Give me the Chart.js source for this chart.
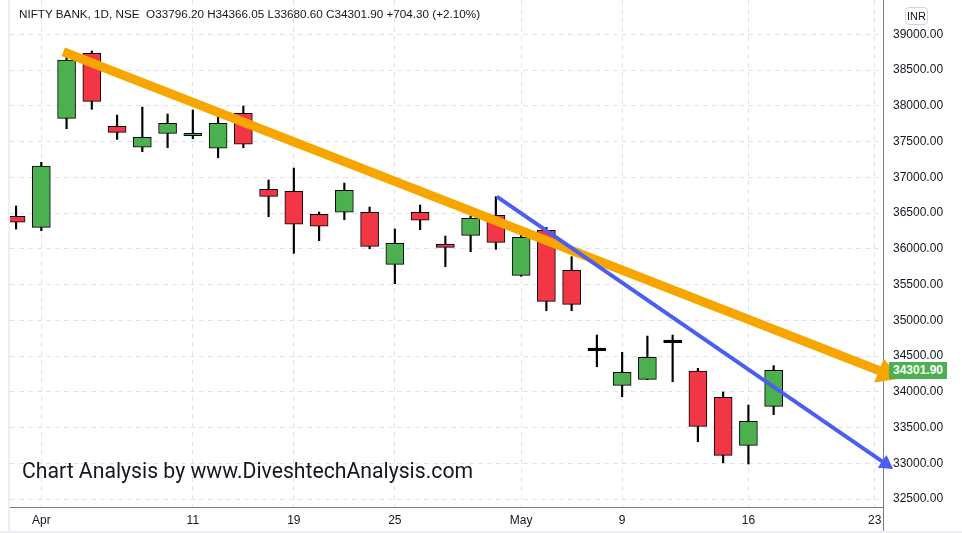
<!DOCTYPE html>
<html>
<head>
<meta charset="utf-8">
<script src="https://cdn.jsdelivr.net/npm/chart.js@4.4.0/dist/chart.umd.min.js"></script>
<style>
html,body{margin:0;padding:0;background:#fff;}
#wrap{position:relative;width:962px;height:533px;overflow:hidden;font-family:"Liberation Sans",Arial,sans-serif;}
#c{position:absolute;left:0;top:0;}
.title{position:absolute;left:19px;top:7px;font-size:11.7px;color:#131722;white-space:pre;}
.wm{position:absolute;left:22px;top:458px;font-size:21.2px;color:#131722;font-family:Roboto,"Liberation Sans",sans-serif;white-space:pre;}
.inr{position:absolute;left:905px;top:7px;width:23px;height:18px;border:1px solid #d1d4dc;border-radius:4px;font-size:11px;line-height:16px;text-align:center;color:#131722;box-sizing:border-box;}
.price{position:absolute;left:889px;width:58px;height:17px;background:#4caf50;color:#fff;font-size:12px;font-weight:bold;line-height:17px;text-align:center;}
.vl{position:absolute;}
</style>
</head>
<body>
<div id="wrap">
<canvas id="c" width="962" height="533"></canvas>
<div class="vl" style="left:8px;top:0;width:2px;height:533px;background:#eceef2;"></div>
<div class="vl" style="left:883px;top:507px;width:1px;height:26px;background:#787b86;"></div>
<div class="vl" style="left:0;top:531px;width:962px;height:2px;background:#eceef2;"></div>
<div class="title" id="title"></div>
<div class="wm">Chart Analysis by www.DiveshtechAnalysis.com</div>
<div class="inr">INR</div>
<div class="price" id="price"></div>
</div>
<script>
// ---- data ----
const dates  = ['Mar 31','Apr 1','Apr 4','Apr 5','Apr 6','Apr 7','Apr 8','Apr 11','Apr 12','Apr 13','Apr 18','Apr 19','Apr 20','Apr 21','Apr 22','Apr 25','Apr 26','Apr 27','Apr 28','Apr 29','May 2','May 4','May 5','May 6','May 9','May 10','May 11','May 12','May 13','May 16','May 17'];
const opens  = [36455,36301,37825,38734,37713,37420,37615,37582,37406,37895,36832,36804,36483,36511,36511,35783,36511,36063,36189,36469,35629,36259,35699,34575,34091,34175,34687,34291,33923,33252,33796.20];
const highs  = [36599,37210,38687,38767,37871,37983,37885,37941,37848,37997,36962,37130,36515,36920,36585,36277,36613,36179,36463,36729,36220,36301,35890,34794,34552,34780,34794,34329,33997,33815,34366.05];
const lows   = [36277,36253,37680,37951,37531,37358,37414,37540,37274,37414,36449,35937,36113,36407,36001,35512,36267,35750,35960,35993,35615,35134,35134,34351,33931,34170,34141,33302,33008,32990,33680.60];
const closes = [36371,37158,38641,38063,37629,37559,37755,37615,37755,37462,36734,36343,36315,36818,36035,36077,36399,36021,36427,36091,36161,35266,35224,34575,34273,34483,34687,33517,33112,33587,34301.90];

const xTickPos    = [1,7,11,15,20,24,29,34];
const xTickLabels = ['Apr','11','19','25','May','9','16','23'];
const yTickValues = [32500,33000,33500,34000,34500,35000,35500,36000,36500,37000,37500,38000,38500,39000];

const trendOrange = [{x:1.87,y:38757},{x:34.45,y:34260}];
const trendBlue   = [{x:19.04,y:36729},{x:34.44,y:32992}];

const titleText = 'NIFTY BANK, 1D, NSE  O33796.20 H34366.05 L33680.60 C34301.90 +704.30 (+2.10%)';

// ---- build ----
const UP='#4caf50', DOWN='#f23645';
const bodyColors = opens.map((o,i)=> closes[i]>o ? UP : (closes[i]<o ? DOWN : '#000'));
const wickData = dates.map((d,i)=>({x:i, y:[lows[i],highs[i]]}));
const bodyData = dates.map((d,i)=>({x:i, y:[opens[i],closes[i]]}));
document.getElementById('title').textContent = titleText;
const lastClose = closes[closes.length-1];
document.getElementById('price').textContent = lastClose.toFixed(2);

function arrowRotation(ctx){
  const ds = ctx.chart.data.datasets[ctx.datasetIndex].data;
  const sx = ctx.chart.scales.x, sy = ctx.chart.scales.y;
  const dx = sx.getPixelForValue(ds[1].x) - sx.getPixelForValue(ds[0].x);
  const dy = sy.getPixelForValue(ds[1].y) - sy.getPixelForValue(ds[0].y);
  return 90 + Math.atan2(dy,dx)*180/Math.PI;
}

const priceLabelPlugin = {
  id:'priceLabel',
  afterDraw(chart){
    const y = chart.scales.y.getPixelForValue(lastClose);
    document.getElementById('price').style.top = (y-8)+'px';
  }
};

new Chart(document.getElementById('c'), {
  type:'bar',
  data:{
    datasets:[
      {type:'line', data:trendOrange, borderColor:'#f7a600', borderWidth:9, borderCapStyle:'butt',
       pointRadius:[0,15], pointStyle:'triangle', pointRotation:arrowRotation, pointBackgroundColor:'#f7a600',
       pointBorderWidth:0, pointHoverRadius:0, clip:false, order:0},
      {type:'line', data:trendBlue, borderColor:'#4a5ff2', borderWidth:4, borderCapStyle:'butt',
       pointRadius:[0,9], pointStyle:'triangle', pointRotation:arrowRotation, pointBackgroundColor:'#4a5ff2',
       pointBorderWidth:0, pointHoverRadius:0, clip:false, order:-1},
      {data:bodyData, backgroundColor:bodyColors, borderColor:'#000', borderWidth:1, borderSkipped:false,
       barThickness:18, minBarLength:2.5, grouped:false, order:1},
      {data:wickData, backgroundColor:'#000', borderWidth:0, barThickness:1.5, grouped:false, order:2}
    ]
  },
  options:{
    responsive:false, animation:false, events:[],
    layout:{autoPadding:false, padding:{left:10,top:0,right:0,bottom:0}},
    plugins:{legend:{display:false}, tooltip:{enabled:false}},
    scales:{
      x:{type:'linear', min:-0.24, max:34.33, offset:false,
         afterBuildTicks:s=>{ s.ticks = xTickPos.map(v=>({value:v})); },
         afterFit:s=>{ s.height = 26; s.paddingLeft = 0; s.paddingRight = 0; },
         ticks:{autoSkip:false, maxRotation:0, color:'#131722', font:{family:'"Liberation Sans", Arial, sans-serif', size:12}, padding:6,
                callback:(v)=>{ const k = xTickPos.indexOf(v); return k>=0 ? xTickLabels[k] : ''; }},
         grid:{color:'#e0e3eb', offset:false, drawTicks:false, lineWidth:1},
         border:{display:true, color:'#787b86', width:1, dash:[5,4]}
      },
      y:{position:'right', min:32389, max:39480,
         afterBuildTicks:s=>{ s.ticks = yTickValues.map(v=>({value:v})); },
         afterFit:s=>{ s.width = 79; s.paddingTop = 0; s.paddingBottom = 0; },
         ticks:{color:'#131722', font:{family:'"Liberation Sans", Arial, sans-serif', size:12}, padding:10,
                callback:(v)=>Number(v).toFixed(2)},
         grid:{color:'#e0e3eb', drawTicks:false, lineWidth:1},
         border:{display:true, color:'#787b86', width:1, dash:[5,4]}
      }
    }
  },
  plugins:[priceLabelPlugin]
});
</script>
</body>
</html>
